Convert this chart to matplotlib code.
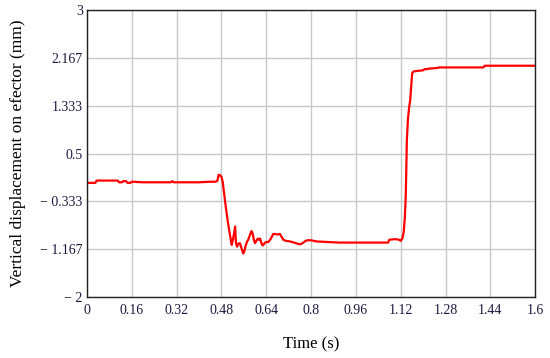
import numpy as np
import matplotlib.pyplot as plt

# values (time in s, displacement in mm)
time = [0.0, 0.03, 0.035, 0.11, 0.115, 0.125, 0.13, 0.14, 0.145, 0.155, 0.16, 0.20,
        0.30, 0.305, 0.31, 0.32, 0.40, 0.44, 0.46, 0.466, 0.470, 0.475, 0.480, 0.485,
        0.490, 0.495, 0.500, 0.505, 0.510, 0.517, 0.521, 0.525, 0.529, 0.532, 0.536,
        0.540, 0.546, 0.550, 0.554, 0.558, 0.562, 0.567, 0.572, 0.576, 0.581, 0.585,
        0.588, 0.592, 0.596, 0.600, 0.605, 0.610, 0.614, 0.618, 0.623, 0.627, 0.630,
        0.636, 0.642, 0.648, 0.654, 0.660, 0.665, 0.672, 0.680, 0.689, 0.695, 0.701,
        0.710, 0.725, 0.740, 0.752, 0.761, 0.770, 0.778, 0.785, 0.80, 0.82, 0.86,
        0.90, 0.95, 1.00, 1.05, 1.075, 1.08, 1.10, 1.115, 1.12, 1.126, 1.131, 1.135,
        1.138, 1.140, 1.142, 1.146, 1.150, 1.154, 1.158, 1.161, 1.166, 1.18, 1.20,
        1.205, 1.215, 1.22, 1.25, 1.255, 1.30, 1.40, 1.415, 1.42, 1.60]
disp = [-0.01, -0.01, 0.03, 0.03, 0.0, 0.0, 0.02, 0.02, -0.01, -0.01, 0.01, 0.0,
        0.0, 0.02, 0.0, 0.0, 0.0, 0.01, 0.01, 0.03, 0.13, 0.125, 0.1, 0.0,
        -0.2, -0.4, -0.58, -0.75, -0.9, -1.09, -1.0, -0.9, -0.77, -1.05, -1.12,
        -1.07, -1.06, -1.12, -1.18, -1.24, -1.2, -1.1, -1.03, -1.0, -0.93, -0.88,
        -0.85, -0.9, -1.0, -1.06, -1.02, -0.98, -1.0, -0.98, -1.06, -1.1, -1.09,
        -1.05, -1.04, -1.04, -1.0, -0.95, -0.9, -0.9, -0.91, -0.9, -0.95, -1.0,
        -1.02, -1.03, -1.05, -1.07, -1.08, -1.06, -1.03, -1.01, -1.01, -1.03, -1.04,
        -1.05, -1.05, -1.05, -1.05, -1.05, -1.0, -0.99, -1.0, -1.02, -0.98, -0.86, -0.6,
        -0.25, 0.2, 0.73, 1.1, 1.3, 1.43, 1.7, 1.9, 1.93, 1.94, 1.95,
        1.97, 1.97, 1.98, 1.99, 2.0, 2.0, 2.0, 2.0, 2.03, 2.03]

xticks = [0, 0.16, 0.32, 0.48, 0.64, 0.8, 0.96, 1.12, 1.28, 1.44, 1.6]
xticklabels = ['0', '0.16', '0.32', '0.48', '0.64', '0.8', '0.96', '1.12', '1.28', '1.44', '1.6']
yticks = [-2, -1.167, -0.333, 0.5, 1.333, 2.167, 3]
yticklabels = ['\u2212 2', '\u2212 1.167', '\u2212 0.333', '0.5', '1.333', '2.167', '3']

plt.rcParams['font.family'] = 'Liberation Serif'

fig = plt.figure(figsize=(5.5, 3.58), dpi=100)
ax = fig.add_axes([0.158, 0.170, 0.815, 0.802])
ax.plot(time, disp, color='red', linewidth=1.6)

ax.set_xlim(0, 1.6)
ax.set_ylim(-2, 3)
ax.set_xticks(xticks)
ax.set_xticklabels(xticklabels, fontsize=10)
ax.set_yticks(yticks)
ax.set_yticklabels(yticklabels, fontsize=10)
ax.tick_params(axis='x', length=0, pad=5, colors='#1a1a40')
ax.tick_params(axis='y', length=0, pad=3, colors='#1a1a40')
ax.grid(True, color='#c8c8c8', linewidth=1.0)
ax.set_axisbelow(True)
for s in ax.spines.values():
    s.set_color('#222222')
    s.set_linewidth(1.0)

ax.set_xlabel('Time (s)', fontsize=12, labelpad=14)
ax.set_ylabel('Vertical displacement on efector (mm)', fontsize=12.5, labelpad=10)

fig.savefig('out.png', dpi=100)
